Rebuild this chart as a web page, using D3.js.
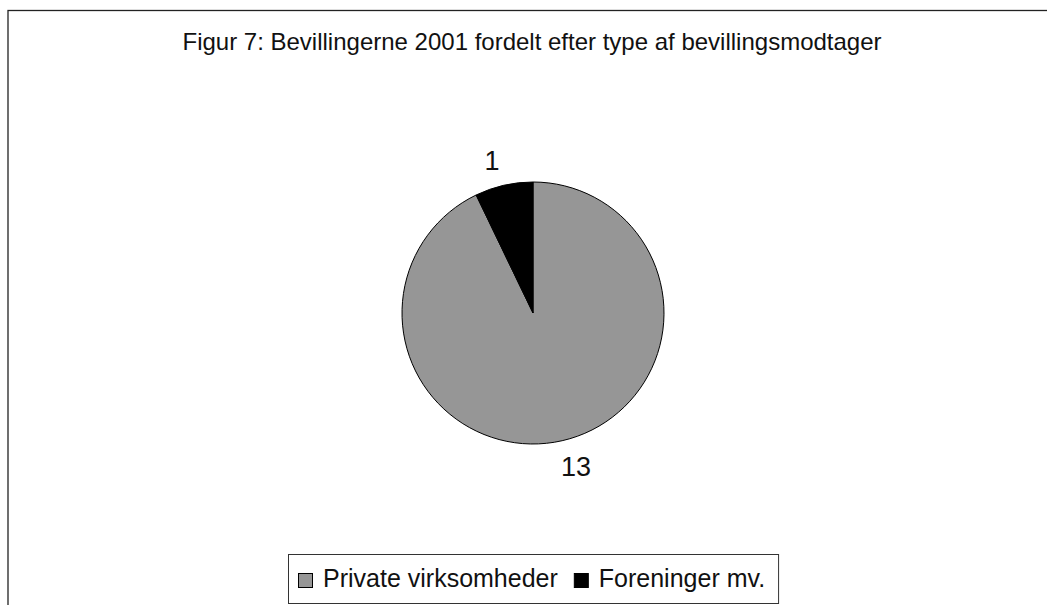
<!DOCTYPE html>
<html lang="da">
<head>
<meta charset="UTF-8">
<title>Figur 7</title>
<script src="https://d3js.org/d3.v7.min.js"></script>
<style>
  body { margin: 0; background: #fff; }
  svg { display: block; font-family: "Liberation Sans", Arial, sans-serif; }
</style>
</head>
<body>
<svg id="chart"></svg>
<script>
// data
const chartTitle = "Figur 7: Bevillingerne 2001 fordelt efter type af bevillingsmodtager";
const categories = ["Private virksomheder", "Foreninger mv."];
const values = [13, 1];
const colors = ["#969696", "#000000"];

const width = 1047, height = 605;
const cx = 533, cy = 313, radius = 131;

const svg = d3.select("#chart").attr("width", width).attr("height", height);

// ramme (kun venstre/top ses i billedet)
svg.append("rect")
  .attr("x", 8).attr("y", 10.5)
  .attr("width", 1200).attr("height", 800)
  .attr("fill", "none").attr("stroke", "#222").attr("stroke-width", 1.3);

svg.append("text")
  .attr("x", 532).attr("y", 50)
  .attr("text-anchor", "middle")
  .attr("font-size", 24)
  .attr("fill", "#111")
  .text(chartTitle);

const color = d3.scaleOrdinal().domain(categories).range(colors);

const pie = d3.pie().sort(null).value(d => d.value);
const slices = pie(categories.map((c, i) => ({ name: c, value: values[i] })));

const arc = d3.arc().innerRadius(0).outerRadius(radius);
const labelArc = d3.arc().innerRadius(157).outerRadius(157);

const g = svg.append("g").attr("transform", `translate(${cx},${cy})`);

g.selectAll("path")
  .data(slices)
  .enter().append("path")
  .attr("d", arc)
  .attr("fill", d => color(d.data.name))
  .attr("stroke", "#000")
  .attr("stroke-width", 1);

g.selectAll(".lbl")
  .data(slices)
  .enter().append("text")
  .attr("class", "lbl")
  .attr("x", d => { const p = labelArc.centroid(d); return p[0] + (p[0] < 0 ? -6 : 8); })
  .attr("y", d => labelArc.centroid(d)[1] + 10)
  .attr("text-anchor", "middle")
  .attr("font-size", 27)
  .attr("fill", "#111")
  .text(d => d.data.value);

// legend
const legend = svg.append("g");
const legendBox = legend.append("rect")
  .attr("fill", "#fff").attr("stroke", "#333").attr("stroke-width", 1);

let xPos = 298;
categories.forEach((c, i) => {
  legend.append("rect")
    .attr("x", xPos + 0.5).attr("y", 573.5)
    .attr("width", 14).attr("height", 14)
    .attr("fill", colors[i])
    .attr("stroke", "#000").attr("stroke-width", 1);
  const t = legend.append("text")
    .attr("x", xPos + 25).attr("y", 587)
    .attr("font-size", 25)
    .attr("fill", "#111")
    .text(c);
  const w = t.node().getComputedTextLength();
  xPos = xPos + 25 + w + 16;
});
const contentRight = xPos - 16;
legendBox
  .attr("x", 288.5).attr("y", 554.5)
  .attr("width", contentRight + 13 - 288).attr("height", 49);
</script>
</body>
</html>
